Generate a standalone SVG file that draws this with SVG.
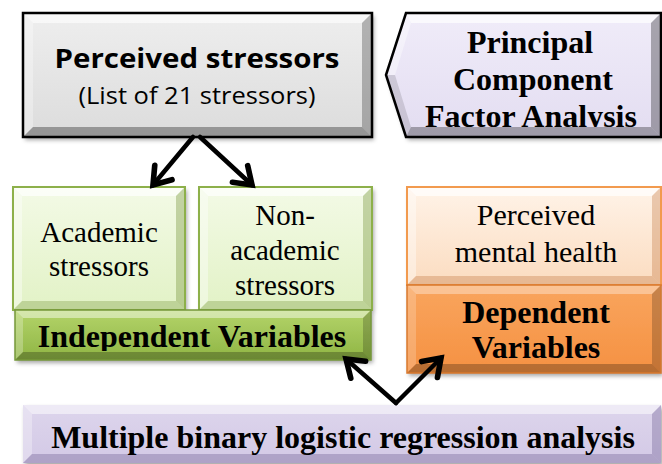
<svg xmlns="http://www.w3.org/2000/svg" width="662" height="464" viewBox="0 0 662 464">
  <defs>
    <style>
      .serif { font-family: "Liberation Serif", "Times New Roman", serif; fill: #000; text-anchor: middle; }
      .sans { font-family: "Open Sans", "Liberation Sans", Arial, sans-serif; fill: #000; text-anchor: middle; }
      .b { font-weight: bold; }
      .hi { fill: #fff; }
      .lo { fill: #000; }
      .conn { fill: none; stroke: #000; stroke-width: 4.5; stroke-linecap: round; }
    </style>
    <filter id="shadow" x="-5%" y="-5%" width="115%" height="125%">
      <feDropShadow dx="2" dy="3" stdDeviation="2" flood-color="#000" flood-opacity="0.35"/>
    </filter>
    <linearGradient id="gGray" x1="0" y1="0" x2="0" y2="1">
      <stop offset="0" stop-color="#eeeeee"/>
      <stop offset="1" stop-color="#dcdcdc"/>
    </linearGradient>
    <linearGradient id="gLav" x1="0" y1="0" x2="0" y2="1">
      <stop offset="0" stop-color="#f0ecf9"/>
      <stop offset="1" stop-color="#e3ddf1"/>
    </linearGradient>
    <linearGradient id="gLav2" x1="0" y1="0" x2="0" y2="1">
      <stop offset="0" stop-color="#ddd5ec"/>
      <stop offset="1" stop-color="#d3c9e6"/>
    </linearGradient>
    <linearGradient id="gGreenL" x1="0" y1="0" x2="0" y2="1">
      <stop offset="0" stop-color="#f3fae6"/>
      <stop offset="1" stop-color="#e2f2c6"/>
    </linearGradient>
    <linearGradient id="gGreen" x1="0" y1="0" x2="0" y2="1">
      <stop offset="0" stop-color="#b4d46a"/>
      <stop offset="1" stop-color="#8fb544"/>
    </linearGradient>
    <linearGradient id="gPeach" x1="0" y1="0" x2="0" y2="1">
      <stop offset="0" stop-color="#fff3e8"/>
      <stop offset="1" stop-color="#fbdcc0"/>
    </linearGradient>
    <linearGradient id="gOrange" x1="0" y1="0" x2="0" y2="1">
      <stop offset="0" stop-color="#f9a55e"/>
      <stop offset="1" stop-color="#f59142"/>
    </linearGradient>
    <marker id="vhead" markerUnits="userSpaceOnUse" markerWidth="30" markerHeight="30" viewBox="-16 -12 20 24" refX="0" refY="0" orient="auto">
      <path d="M-13,-9 L0,0 L-13,9" fill="none" stroke="#000" stroke-width="4.5" stroke-linecap="round" stroke-linejoin="miter"/>
    </marker>
    <clipPath id="clipPca">
      <rect x="380" y="13" width="282" height="114"/>
    </clipPath>
    <clipPath id="clipIndep">
      <rect x="15" y="310" width="356" height="41"/>
    </clipPath>
  </defs>

  <!-- Perceived stressors -->
  <g id="perceived-stressors">
    <rect x="23" y="13" width="349" height="124" fill="url(#gGray)" filter="url(#shadow)"/>
    <polygon class="hi" opacity="0.6" points="23,13 372,13 362,23 33,23"/>
    <polygon class="hi" opacity="0.3" points="23,13 33,23 33,127 23,137"/>
    <polygon class="lo" opacity="0.25" points="372,13 372,137 362,127 362,23"/>
    <polygon class="lo" opacity="0.32" points="23,137 33,127 362,127 372,137"/>
    <rect x="23" y="13" width="349" height="124" fill="none" stroke="#000" stroke-width="2.5"/>
    <text class="sans b" x="197" y="68" font-size="26.5" textLength="285" lengthAdjust="spacingAndGlyphs">Perceived stressors</text>
    <text class="sans" x="197" y="104" font-size="24" textLength="237" lengthAdjust="spacingAndGlyphs">(List of 21 stressors)</text>
  </g>

  <!-- Principal Component Factor Analysis -->
  <g id="pca">
    <polygon points="386,75 406,13 661,13 661,137 406,137" fill="url(#gLav)" filter="url(#shadow)"/>
    <polygon class="hi" opacity="0.7" points="406,13 661,13 651,23 411,23"/>
    <polygon class="hi" opacity="0.4" points="386,75 406,13 411,23 395,75"/>
    <polygon class="lo" opacity="0.12" points="386,75 395,75 411,127 406,137"/>
    <polygon class="lo" opacity="0.3" points="661,13 661,137 651,127 651,23"/>
    <polygon class="lo" opacity="0.3" points="406,137 411,127 651,127 661,137"/>
    <polygon points="386,75 406,13 661,13 661,137 406,137" fill="none" stroke="#000" stroke-width="2.5"/>
    <g clip-path="url(#clipPca)">
      <text class="serif b" x="530" y="53" font-size="32">Principal</text>
      <text class="serif b" x="533" y="90" font-size="32">Component</text>
      <text class="serif b" x="531" y="127" font-size="32">Factor Analysis</text>
    </g>
  </g>

  <!-- Academic stressors -->
  <g id="academic">
    <rect x="13" y="187" width="172" height="123" fill="url(#gGreenL)" filter="url(#shadow)"/>
    <polygon class="hi" opacity="0.7" points="13,187 185,187 176,196 22,196"/>
    <polygon class="hi" opacity="0.4" points="13,187 22,196 22,301 13,310"/>
    <polygon fill="#6b8a2c" opacity="0.35" points="185,187 185,310 176,301 176,196"/>
    <polygon fill="#6b8a2c" opacity="0.3" points="13,310 22,301 176,301 185,310"/>
    <rect x="13" y="187" width="172" height="123" fill="none" stroke="#8db04a" stroke-width="2"/>
    <text class="serif" x="99" y="242" font-size="29">Academic</text>
    <text class="serif" x="99" y="276" font-size="29">stressors</text>
  </g>

  <!-- Non-academic stressors -->
  <g id="non-academic">
    <rect x="199" y="187" width="173" height="123" fill="url(#gGreenL)" filter="url(#shadow)"/>
    <polygon class="hi" opacity="0.7" points="199,187 372,187 363,196 208,196"/>
    <polygon class="hi" opacity="0.4" points="199,187 208,196 208,301 199,310"/>
    <polygon fill="#6b8a2c" opacity="0.35" points="372,187 372,310 363,301 363,196"/>
    <polygon fill="#6b8a2c" opacity="0.3" points="199,310 208,301 363,301 372,310"/>
    <rect x="199" y="187" width="173" height="123" fill="none" stroke="#8db04a" stroke-width="2"/>
    <text class="serif" x="285" y="225" font-size="29">Non-</text>
    <text class="serif" x="285" y="260" font-size="29">academic</text>
    <text class="serif" x="285" y="295" font-size="29">stressors</text>
  </g>

  <!-- Independent Variables -->
  <g id="independent">
    <rect x="15" y="310" width="356" height="50" fill="url(#gGreen)" filter="url(#shadow)"/>
    <polygon class="hi" opacity="0.45" points="15,310 371,310 363,318 23,318"/>
    <polygon class="hi" opacity="0.25" points="15,310 23,318 23,352 15,360"/>
    <polygon class="lo" opacity="0.2" points="371,310 371,360 363,352 363,318"/>
    <polygon class="lo" opacity="0.25" points="15,360 23,352 363,352 371,360"/>
    <rect x="15" y="310" width="356" height="50" fill="none" stroke="#76983a" stroke-width="1.5"/>
    <g clip-path="url(#clipIndep)">
      <text class="serif b" x="192" y="347" font-size="32">Independent Variables</text>
    </g>
  </g>

  <!-- Perceived mental health -->
  <g id="mental-health">
    <rect x="407" y="187" width="254" height="98" fill="url(#gPeach)" filter="url(#shadow)"/>
    <polygon class="hi" opacity="0.7" points="407,187 661,187 652,196 416,196"/>
    <polygon class="hi" opacity="0.4" points="407,187 416,196 416,276 407,285"/>
    <polygon fill="#b8672a" opacity="0.3" points="661,187 661,285 652,276 652,196"/>
    <polygon fill="#b8672a" opacity="0.3" points="407,285 416,276 652,276 661,285"/>
    <rect x="407" y="187" width="254" height="98" fill="none" stroke="#f29a4e" stroke-width="2"/>
    <text class="serif" x="536" y="225" font-size="30">Perceived</text>
    <text class="serif" x="536" y="262" font-size="30">mental health</text>
  </g>

  <!-- Dependent Variables -->
  <g id="dependent">
    <rect x="407" y="285" width="254" height="88" fill="url(#gOrange)" filter="url(#shadow)"/>
    <polygon class="hi" opacity="0.35" points="407,285 661,285 652,294 416,294"/>
    <polygon class="hi" opacity="0.2" points="407,285 416,294 416,364 407,373"/>
    <polygon class="lo" opacity="0.2" points="661,285 661,373 652,364 652,294"/>
    <polygon class="lo" opacity="0.25" points="407,373 416,364 652,364 661,373"/>
    <rect x="407" y="285" width="254" height="88" fill="none" stroke="#d9782c" stroke-width="1.5"/>
    <text class="serif b" x="536" y="323" font-size="32">Dependent</text>
    <text class="serif b" x="536" y="358" font-size="32">Variables</text>
  </g>

  <!-- Multiple binary logistic regression analysis -->
  <g id="regression">
    <rect x="23" y="405" width="638" height="58" fill="url(#gLav2)" filter="url(#shadow)"/>
    <polygon class="hi" opacity="0.5" points="23,405 661,405 652,414 32,414"/>
    <polygon class="hi" opacity="0.3" points="23,405 32,414 32,454 23,463"/>
    <polygon fill="#5a4a80" opacity="0.3" points="661,405 661,463 652,454 652,414"/>
    <polygon fill="#5a4a80" opacity="0.3" points="23,463 32,454 652,454 661,463"/>
    <text class="serif b" x="343" y="448" font-size="32">Multiple binary logistic regression analysis</text>
  </g>

  <!-- Connectors -->
  <g id="connectors">
    <path class="conn" d="M193,137 L153,185" marker-end="url(#vhead)"/>
    <path class="conn" d="M200,137 L252,185" marker-end="url(#vhead)"/>
    <path class="conn" d="M396,403 L346,359" marker-end="url(#vhead)"/>
    <path class="conn" d="M396,403 L441,358" marker-end="url(#vhead)"/>
  </g>
</svg>
